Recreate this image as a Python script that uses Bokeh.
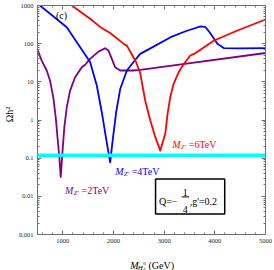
import math
from bokeh.plotting import figure
from bokeh.layouts import gridplot
from bokeh.models import FixedTicker, LinearAxis, LogAxis, Span, Range1d
from bokeh.core.properties import value
from bokeh.embed import file_html
from bokeh.resources import INLINE

# ---------------- data ----------------
X_START, X_END = 500, 5000
Y_START, Y_END = 0.001, 1000
X_TICKS = [1000, 2000, 3000, 4000, 5000]
X_MINOR = [600, 800, 1200, 1400, 1600, 1800, 2200, 2400, 2600, 2800,
           3200, 3400, 3600, 3800, 4200, 4400, 4600, 4800]
Y_TICKS = [0.001, 0.01, 0.1, 1.0, 10.0, 100.0, 1000.0]
Y_TICK_LABELS = ["0.001", "0.01", "0.1", "1", "10", "100", "1000"]
Y_MINOR = [k * d for d in [0.001, 0.01, 0.1, 1.0, 10.0, 100.0] for k in range(2, 10)]

OMEGA_OBS = 0.12

MZ2_X = [500, 583, 682, 747, 812, 860, 900, 931, 959, 990, 1030, 1078, 1143,
         1242, 1374, 1440, 1538, 1703, 1835, 1900, 1967, 2033, 2132, 2395,
         2527, 3516, 5000]
MZ2_Y = [69, 36, 19.8, 10.8, 3.9, 1.18, 0.29, 0.105, 0.032, 0.13, 0.65, 2.16,
         5.9, 13.2, 24, 28, 40, 62, 76, 66, 40, 24, 19.8, 19.8, 20.6, 30.8, 57]

MZ4_X = [549, 1077, 1538, 1670, 1769, 1855, 1934, 1987, 2053, 2132, 2264,
         2395, 2527, 2800, 3127, 3450, 3720, 3819, 3918, 4050, 4183, 4500, 5000]
MZ4_Y = [1000, 270, 33, 8, 1.6, 0.32, 0.078, 0.32, 1.6, 6.5, 19.8, 33, 54,
         85, 148, 218, 282, 270, 181, 100, 76, 75, 76]

MZ6_X = [1176, 1538, 1736, 1934, 2197, 2264, 2440, 2527, 2626, 2725, 2824,
         2923, 3022, 3067, 3120, 3186, 3285, 3384, 3516, 3589, 3985, 4446, 5000]
MZ6_Y = [1000, 450, 275, 190, 100, 89, 34, 17, 3.2, 0.98, 0.36, 0.158, 0.44,
         1.45, 4, 8.9, 17.8, 29, 49, 54, 121, 221, 430]

PURPLE = "#800080"
BLUE = "#0000FF"
RED = "#FF0000"
CYAN = "#00FFFF"
AX = "#707070"
FONT = "Liberation Serif"

FRAME_W = 227.5
FRAME_H = 229.0
PX_PER_DECADE = FRAME_H / 6.0
GEV_PER_PX = (X_END - X_START) / FRAME_W
STRIP_W = 14


def bare(fig):
    fig.xgrid.visible = False
    fig.ygrid.visible = False
    fig.outline_line_color = None
    fig.background_fill_color = "white"
    fig.border_fill_color = "white"


# ---------------- main figure ----------------
p = figure(width=274 - STRIP_W, height=250, x_range=Range1d(X_START, X_END),
           y_range=Range1d(Y_START, Y_END), y_axis_type="log",
           output_backend="svg", toolbar_location=None,
           min_border_left=37 - STRIP_W, min_border_right=9, min_border_top=5,
           min_border_bottom=16)
p.xgrid.visible = False
p.ygrid.visible = False
p.outline_line_color = AX
p.background_fill_color = "white"
p.border_fill_color = "white"


def style_axis(ax, show, standoff=4):
    ax.axis_line_color = AX
    ax.major_tick_line_color = AX
    ax.minor_tick_line_color = AX
    ax.major_tick_in = 4
    ax.major_tick_out = 0
    ax.minor_tick_in = 2
    ax.minor_tick_out = 0
    ax.major_label_text_font = FONT
    ax.major_label_text_color = "#222222"
    if show:
        ax.major_label_text_font_size = "6.5px"
        ax.major_label_standoff = standoff
    else:
        ax.major_label_text_font_size = "1px"
        ax.major_label_text_alpha = 0
        ax.major_label_standoff = 0


p.xaxis[0].ticker = FixedTicker(ticks=X_TICKS, minor_ticks=X_MINOR)
p.yaxis[0].ticker = FixedTicker(ticks=Y_TICKS, minor_ticks=Y_MINOR)
p.yaxis[0].major_label_overrides = {float(t): s for t, s in zip(Y_TICKS, Y_TICK_LABELS)}
style_axis(p.xaxis[0], True, 4)
style_axis(p.yaxis[0], True, 4)

top = LinearAxis(ticker=FixedTicker(ticks=X_TICKS, minor_ticks=X_MINOR))
style_axis(top, False)
p.add_layout(top, "above")
right = LogAxis(ticker=FixedTicker(ticks=Y_TICKS, minor_ticks=Y_MINOR))
style_axis(right, False)
p.add_layout(right, "right")

# ---------------- curves ----------------
p.line(MZ2_X, MZ2_Y, line_color=PURPLE, line_width=1.8, line_join="round")
p.line(MZ4_X, MZ4_Y, line_color=BLUE, line_width=1.8, line_join="round")
p.line(MZ6_X, MZ6_Y, line_color=RED, line_width=1.8, line_join="round")
p.add_layout(Span(location=OMEGA_OBS, dimension="width", line_color=CYAN,
                  line_width=3.5))


def down(y, px):
    """log-axis y position px pixels below y"""
    return y * 10 ** (-px / PX_PER_DECADE)


def right_of(x, px):
    return x + px * GEV_PER_PX


def txt(fig, x, y, text, size, color, style="normal",
        align="left", baseline="alphabetic", angle=0.0):
    fig.text(x=[x], y=[y], text=[text], text_font=value(FONT),
             text_font_size=value(f"{size}px"), text_color=color,
             text_font_style=style, text_align=align,
             text_baseline=baseline, angle=angle)


# parameter box
p.quad(left=[2830], right=[4195], top=[0.0286], bottom=[0.00347],
       fill_color="white", line_color="black", line_width=1.5)
txt(p, 2897, 0.00728, "Q=\u2212", 10, "black")
txt(p, 3417, 0.0129, "1", 10, "black", align="center")
p.segment(x0=[3344], x1=[3496], y0=[0.00966], y1=[0.00966],
          line_color="black", line_width=1)
txt(p, 3417, 0.0045, "4", 10, "black", align="center")
txt(p, 3503, 0.00728, ",g'=0.2", 10, "black")


def mz_label(x, y, mass, color):
    txt(p, x, y, "M", 10, color, "italic")
    txt(p, right_of(x, 8.5), down(y, 2.5), "Z'", 7, color, "italic")
    txt(p, right_of(x, 16.5), y, "=" + mass, 10, color)


txt(p, 866, 547, "(c)", 10, "black")
mz_label(1044, 0.01416, "2TeV", PURPLE)
mz_label(2033, 0.0446, "4TeV", BLUE)
mz_label(3160, 0.234, "6TeV", RED)

# ---------------- y-axis title strip (left) ----------------
ys = figure(width=STRIP_W, height=250, x_range=Range1d(0, STRIP_W),
            y_range=Range1d(0, FRAME_H), output_backend="svg",
            toolbar_location=None, x_axis_location=None, y_axis_location=None,
            min_border_left=0, min_border_right=0, min_border_top=5,
            min_border_bottom=16)
bare(ys)
txt(ys, 9, 120, "\u03a9h\u00b2", 10, "black", align="center",
    baseline="middle", angle=math.pi / 2)

# ---------------- x-axis title strip (bottom) ----------------
t = figure(width=274 - STRIP_W, height=20, x_range=p.x_range, y_range=Range1d(0, 20),
           output_backend="svg", toolbar_location=None,
           x_axis_location=None, y_axis_location=None,
           min_border_left=0, min_border_right=0, min_border_top=0,
           min_border_bottom=0)
bare(t)
tx = 2329
txt(t, tx, 5.5, "M", 10, "black", "italic")
txt(t, right_of(tx, 7.5), 3, "H", 7, "black", "italic")
txt(t, right_of(tx, 13), 1.5, "1", 5, "black")
txt(t, right_of(tx, 13), 7, "0", 5, "black")
txt(t, right_of(tx, 18.3), 5.5, "(GeV)", 10, "black")

grid = gridplot([[ys, p], [None, t]], toolbar_location=None)
open("out.html", "w").write(file_html(grid, INLINE))
